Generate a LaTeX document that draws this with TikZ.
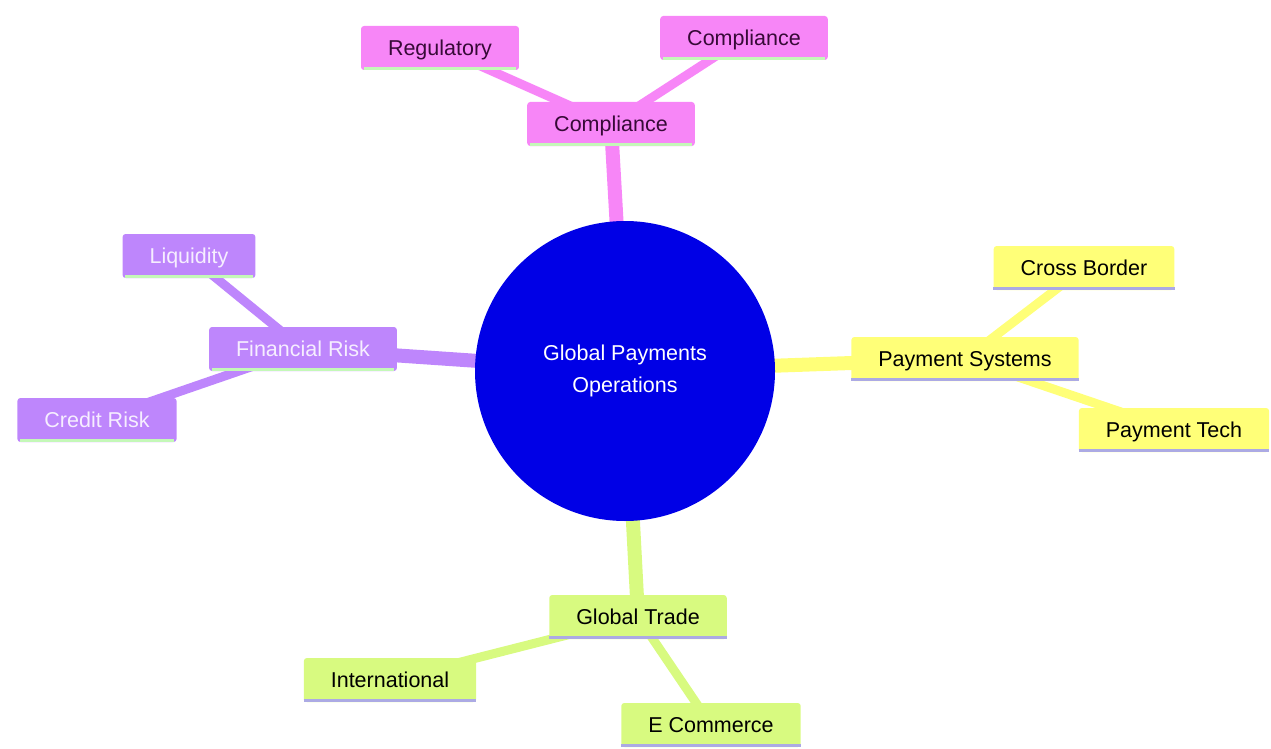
\documentclass[tikz,border=0pt]{standalone}
\usepackage{fontspec}
\setmainfont{Liberation Sans}
\usepackage{tikz}
\usetikzlibrary{backgrounds}
\definecolor{rootblue}{RGB}{0,0,230}
\definecolor{compfill}{RGB}{247,134,247}
\definecolor{comptext}{RGB}{55,10,55}
\definecolor{riskfill}{RGB}{190,134,252}
\definecolor{risktext}{RGB}{246,238,255}
\definecolor{payfill}{RGB}{255,255,120}
\definecolor{tradefill}{RGB}{216,250,128}
\definecolor{greenline}{RGB}{196,248,184}
\definecolor{blueline}{RGB}{172,170,228}
\tikzset{
  box/.style={rectangle, rounded corners=3pt, inner xsep=27pt, inner ysep=0pt,
    minimum height=44pt, text height=18pt, text depth=2.6pt,
    font=\fontsize{21.5}{26}\selectfont},
  root/.style={circle, fill=rootblue, minimum size=300pt, inner sep=0pt, align=center,
    text=white, font=\fontsize{21.5}{32}\selectfont},
  branch/.style={line width=14pt},
  twig/.style={line width=9pt}
}
\begin{document}
\begin{tikzpicture}[x=1pt, y=-1pt]
    \useasboundingbox (0,0) rectangle (1271,749);

    \node (gpo) [root] at (625,371) {Global Payments\\Operations};

    % compliance
    \node (comp) [box, fill=compfill, text=comptext] at (611,124) {Compliance};
    \node (reg) [box, fill=compfill, text=comptext] at (440,48) {Regulatory};
    \node (compl) [box, fill=compfill, text=comptext] at (744,38) {Compliance};

    % financial risk
    \node (frisk) [box, fill=riskfill, text=risktext] at (303,349) {Financial Risk};
    \node (liq) [box, fill=riskfill, text=risktext] at (189,256) {Liquidity};
    \node (credit) [box, fill=riskfill, text=risktext] at (97,420) {Credit Risk};

    % payment systems
    \node (paysys) [box, fill=payfill] at (965,359) {Payment Systems};
    \node (cross) [box, fill=payfill] at (1084,268) {Cross Border};
    \node (paytech) [box, fill=payfill] at (1174,430) {Payment Tech};

    % global trade
    \node (trade) [box, fill=tradefill] at (638,617) {Global Trade};
    \node (intl) [box, fill=tradefill] at (390,680) {International};
    \node (ecom) [box, fill=tradefill] at (711,725) {E Commerce};

    \foreach \n in {comp, reg, compl, frisk, liq, credit}
        \draw [greenline, line width=3pt] (\n.south west) ++(3,-1.5) -- ([xshift=-3pt,yshift=1.5pt]\n.south east);
    \foreach \n in {paysys, cross, paytech, trade, intl, ecom}
        \draw [blueline, line width=3pt] (\n.south west) ++(0,-1.5) -- ([yshift=1.5pt]\n.south east);

    \begin{scope}[on background layer]
        \draw [branch, compfill] (gpo.center) -- (comp.center);
        \draw [twig, compfill] (comp.center) -- (reg.center);
        \draw [twig, compfill] (comp.center) -- (compl.center);
        \draw [branch, riskfill] (gpo.center) -- (frisk.center);
        \draw [twig, riskfill] (frisk.center) -- (liq.center);
        \draw [twig, riskfill] (frisk.center) -- (credit.center);
        \draw [branch, payfill] (gpo.center) -- (paysys.center);
        \draw [twig, payfill] (paysys.center) -- (cross.center);
        \draw [twig, payfill] (paysys.center) -- (paytech.center);
        \draw [branch, tradefill] (gpo.center) -- (trade.center);
        \draw [twig, tradefill] (trade.center) -- (intl.center);
        \draw [twig, tradefill] (trade.center) -- (ecom.center);
    \end{scope}
\end{tikzpicture}
\end{document}
